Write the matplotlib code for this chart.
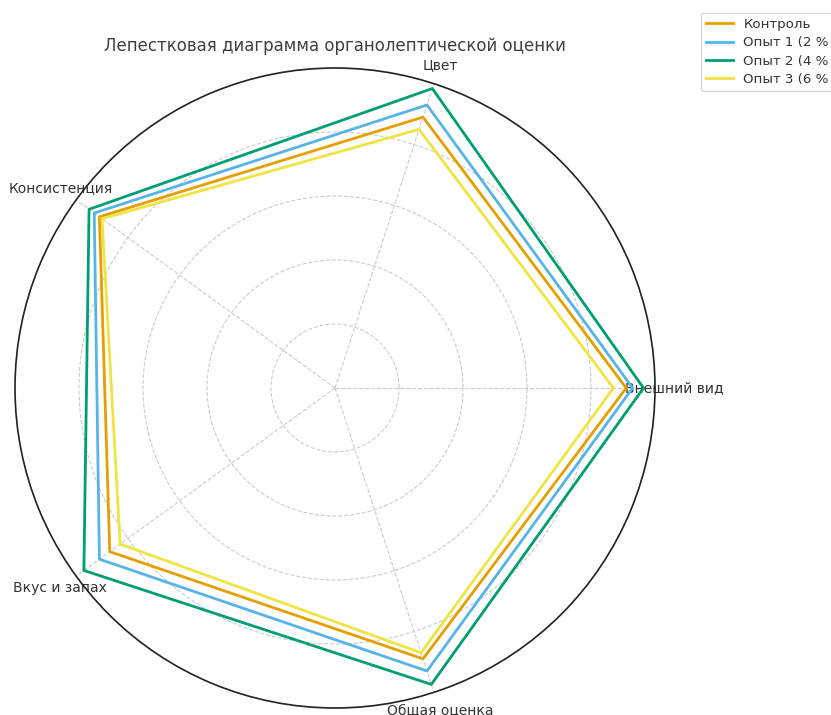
import matplotlib.pyplot as plt
import numpy as np

kategorije = ['Внешний вид', 'Цвет', 'Консистенция', 'Вкус и запах', 'Общая оценка']
nazivi = ['Контроль', 'Опыт 1 (2 %', 'Опыт 2 (4 %', 'Опыт 3 (6 %']
kontrol = [4.55, 4.45, 4.55, 4.35, 4.45]
opyt1 = [4.65, 4.65, 4.65, 4.55, 4.65]
opyt2 = [4.82, 4.92, 4.75, 4.85, 4.87]
opyt3 = [4.35, 4.25, 4.5, 4.15, 4.35]
boje = ['#E69F00', '#56B4E9', '#009E73', '#F0E442']

plt.rcParams['font.family'] = ['DejaVu Sans']
plt.rcParams['text.color'] = '0.2'
plt.rcParams['xtick.color'] = '0.2'

n = len(kategorije)
kutovi = np.linspace(0, 2*np.pi, n, endpoint=False)
kutovi_z = np.concatenate([kutovi, kutovi[:1]])

fig = plt.figure(figsize=(8.31, 7.15), dpi=100)
ax = fig.add_axes([15/831, 7/715, 640/831, 640/715], projection='polar')

for ime, vrijednosti, boja in zip(nazivi, [kontrol, opyt1, opyt2, opyt3], boje):
    v = np.concatenate([vrijednosti, vrijednosti[:1]])
    ax.plot(kutovi_z, v, color=boja, linewidth=2, label=ime)

ax.set_ylim(0, 5)
ax.set_yticks([1, 2, 3, 4, 5])
ax.set_yticklabels([])
ax.set_xticks(kutovi)
ax.set_xticklabels(kategorije, fontsize=10)
ax.tick_params(axis='x', colors='0.2')
ax.grid(True, linestyle='--', color='#cccccc', linewidth=0.8)
ax.spines['polar'].set_color('#222222')
ax.spines['polar'].set_linewidth(1.2)
ax.set_title('Лепестковая диаграмма органолептической оценки', fontsize=12, color='0.25', pad=12)

fig.legend(loc='upper left', bbox_to_anchor=(694/831, 1 - 6/715), fontsize=9.6,
           labelspacing=0.4, frameon=True)

plt.savefig('out.png', dpi=100)
